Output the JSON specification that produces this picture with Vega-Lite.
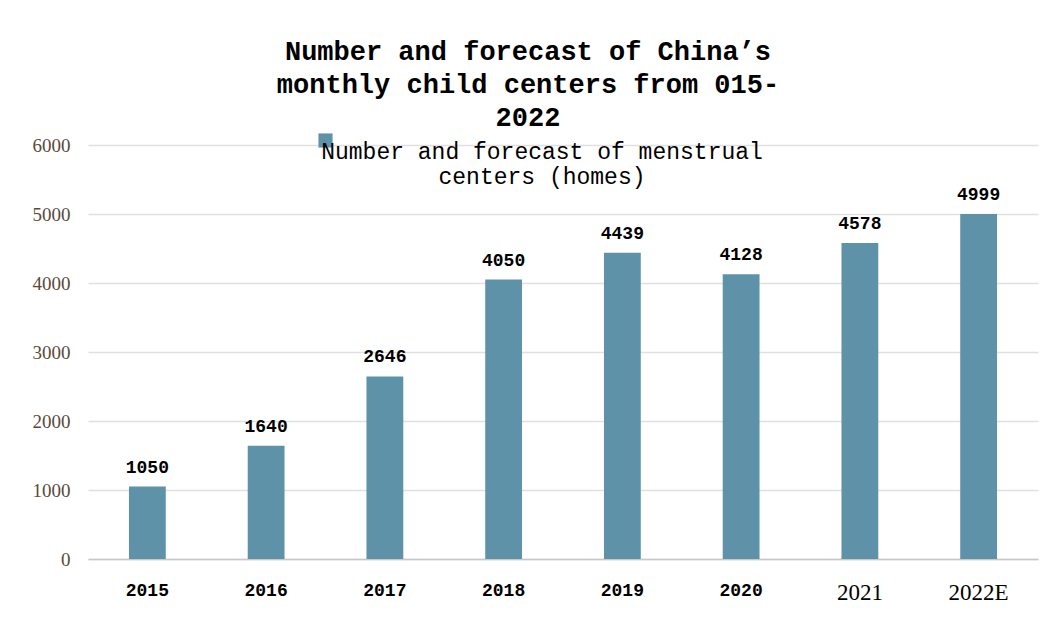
{
  "$schema": "https://vega.github.io/schema/vega-lite/v6.json",
  "width": 950,
  "height": 414,
  "autosize": {"type": "none"},
  "padding": {"left": 88, "top": 145, "right": 13, "bottom": 76},
  "background": "white",
  "config": {"view": {"stroke": null}},
  "title": {
    "text": ["Number and forecast of China’s", "monthly child centers from 015-", "2022"],
    "font": "Liberation Mono",
    "fontSize": 27,
    "fontWeight": "bold",
    "color": "#000000",
    "lineHeight": 33,
    "anchor": "middle",
    "frame": "group",
    "dx": -35,
    "offset": -3
  },
  "data": {
    "values": [
      {"year": "2015", "value": 1050, "series": "Number and forecast of menstrual centers (homes)"},
      {"year": "2016", "value": 1640, "series": "Number and forecast of menstrual centers (homes)"},
      {"year": "2017", "value": 2646, "series": "Number and forecast of menstrual centers (homes)"},
      {"year": "2018", "value": 4050, "series": "Number and forecast of menstrual centers (homes)"},
      {"year": "2019", "value": 4439, "series": "Number and forecast of menstrual centers (homes)"},
      {"year": "2020", "value": 4128, "series": "Number and forecast of menstrual centers (homes)"},
      {"year": "2021", "value": 4578, "series": "Number and forecast of menstrual centers (homes)"},
      {"year": "2022E", "value": 4999, "series": "Number and forecast of menstrual centers (homes)"}
    ]
  },
  "encoding": {
    "x": {
      "field": "year",
      "type": "nominal",
      "sort": null,
      "scale": {"paddingInner": 0.69, "paddingOuter": 0.345},
      "axis": {
        "title": null,
        "labelAngle": 0,
        "ticks": false,
        "domain": true,
        "domainColor": "#c8c8c8",
        "domainWidth": 1.5,
        "labelPadding": 22,
        "labelColor": "#000000",
        "labelFont": {"condition": {"test": "datum.value == '2021' || datum.value == '2022E'", "value": "Liberation Serif"}, "value": "Liberation Mono"},
        "labelFontWeight": {"condition": {"test": "datum.value == '2021' || datum.value == '2022E'", "value": "normal"}, "value": "bold"},
        "labelFontSize": {"condition": {"test": "datum.value == '2021' || datum.value == '2022E'", "value": 23}, "value": 18}
      }
    },
    "y": {
      "field": "value",
      "type": "quantitative",
      "scale": {"domain": [0, 6000], "nice": false},
      "axis": {
        "title": null,
        "values": [0, 1000, 2000, 3000, 4000, 5000, 6000],
        "format": "d",
        "domain": false,
        "ticks": false,
        "grid": true,
        "gridColor": "#e0e0e0",
        "gridWidth": 1.5,
        "labelFont": "Liberation Serif",
        "labelFontSize": 19,
        "labelColor": "#5a4a3a",
        "labelPadding": 18
      }
    }
  },
  "layer": [
    {
      "mark": {"type": "bar", "color": "#5e92a9"},
      "encoding": {
        "color": {
          "field": "series",
          "type": "nominal",
          "scale": {"range": ["#5e92a9"]},
          "legend": {
            "title": null,
            "orient": "none",
            "legendX": 226,
            "legendY": -16,
            "symbolType": "square",
            "symbolSize": 200,
            "symbolStrokeWidth": 0,
            "symbolOffset": 0,
            "labelFont": "Liberation Mono",
            "labelFontSize": 23,
            "labelColor": "#000000",
            "labelLimit": 800,
            "labelAlign": "center",
            "labelBaseline": "top",
            "labelOffset": 205,
            "labelExpr": "['Number and forecast of menstrual', 'centers (homes)']"
          }
        }
      }
    },
    {
      "mark": {"type": "text", "baseline": "bottom", "dy": -10, "font": "Liberation Mono", "fontWeight": "bold", "fontSize": 18, "color": "#000000"},
      "encoding": {"text": {"field": "value", "type": "quantitative", "format": "d"}}
    }
  ]
}
